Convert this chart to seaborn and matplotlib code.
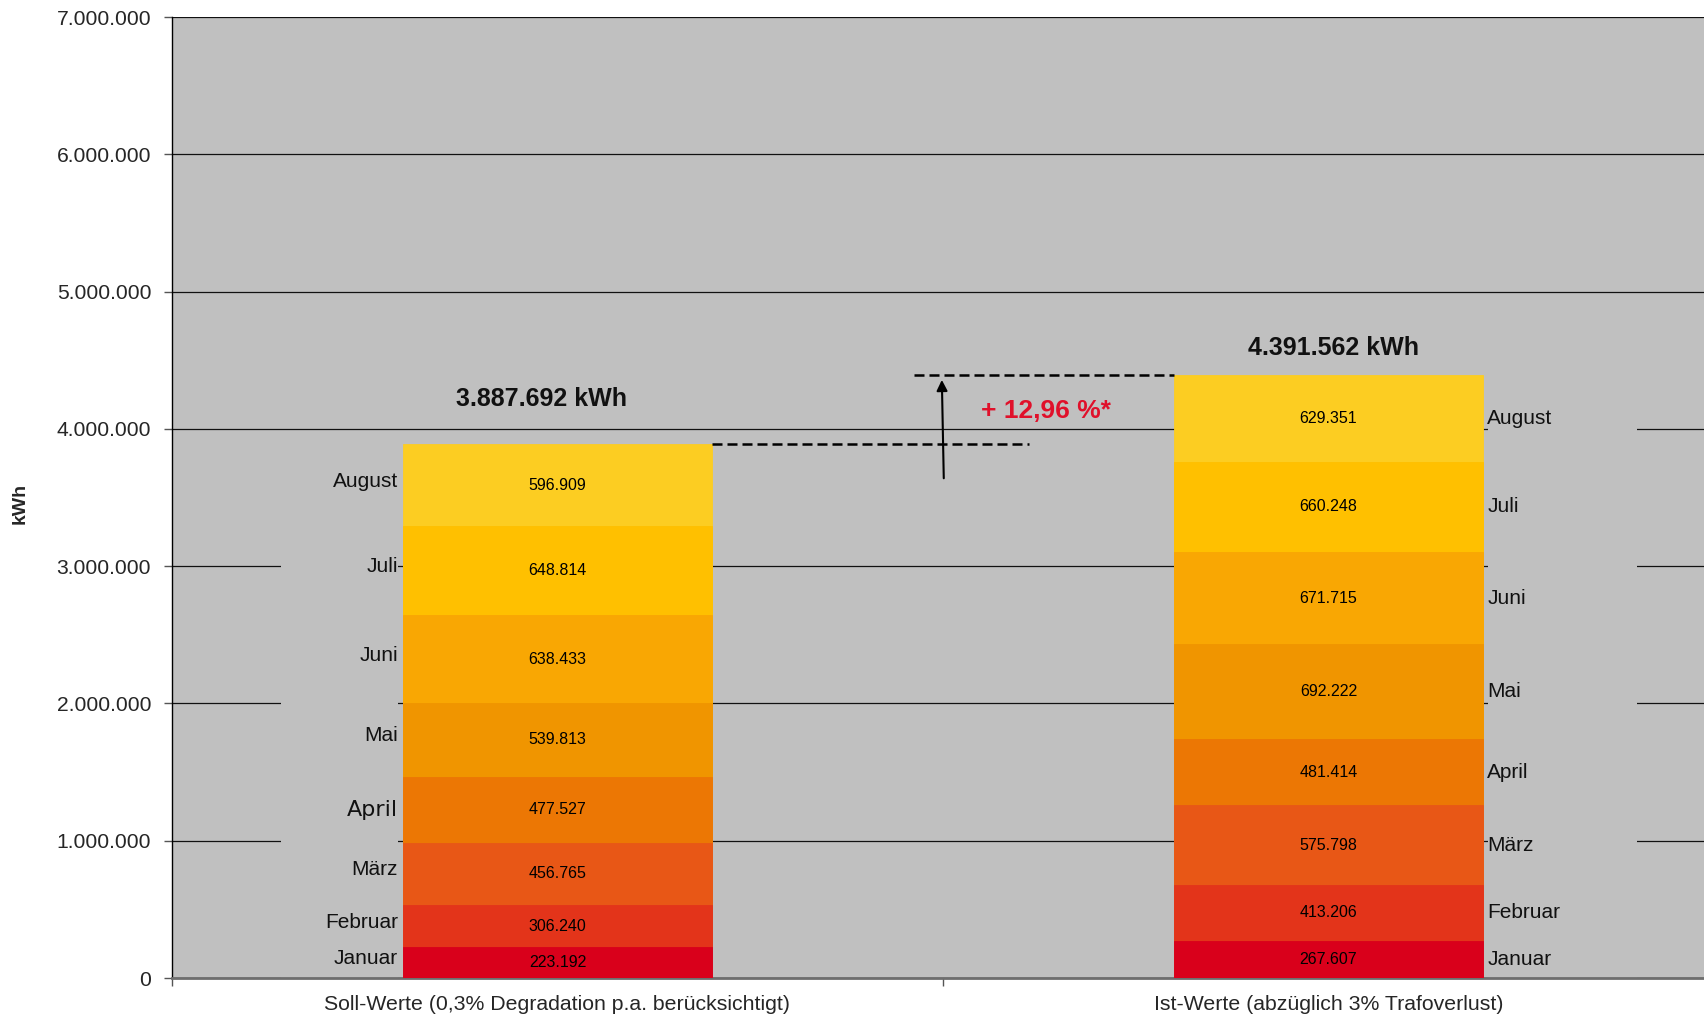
import seaborn as sns
import matplotlib.pyplot as plt
from matplotlib.patches import Rectangle
import numpy as np

# data
kategorien = ["Soll-Werte (0,3% Degradation p.a. berücksichtigt)",
              "Ist-Werte (abzüglich 3% Trafoverlust)"]
monate = ["Januar", "Februar", "März", "April", "Mai", "Juni", "Juli", "August"]
soll = [223192, 306240, 456765, 477527, 539813, 638433, 648814, 596909]
ist = [267607, 413206, 575798, 481414, 692222, 671715, 660248, 629351]
summen = [3887692, 4391562]
plus_text = "+ 12,96 %*"
farben = ["#D9001B", "#E3341A", "#E85716", "#EC7704",
          "#F09500", "#F9A703", "#FFC000", "#FCCD22"]

sns.set_theme(style="white")
plt.rcParams['font.family'] = ['Liberation Sans', 'DejaVu Sans']


def de(v):
    return f"{v:,.0f}".replace(",", ".")


fig = plt.figure(figsize=(17.04, 10.18), dpi=100)
ax = fig.add_axes([172 / 1704, 40 / 1018, 1542 / 1704, 961 / 1018])
ax.set_facecolor("#C0C0C0")

werte = np.array([soll, ist])
kum = werte.cumsum(axis=1)

# stacked bars: draw cumulative totals from top month down
for i in range(len(monate) - 1, -1, -1):
    sns.barplot(x=kategorien, y=kum[:, i], order=kategorien, color=farben[i],
                saturation=1, width=0.4, errorbar=None, linewidth=0.6,
                edgecolor=farben[i], ax=ax, zorder=3)

ax.set_xlim(-0.5, 1.5)
ax.set_ylim(0, 7000000)
ax.set_yticks(np.arange(0, 7000001, 1000000))
ax.set_yticklabels([de(v) for v in np.arange(0, 7000001, 1000000)], fontsize=15.2)
ax.yaxis.grid(True, color="#111111", linewidth=0.9)
ax.set_axisbelow(True)

# label columns hide the gridlines
ax.add_patch(Rectangle((-0.359, 0), 0.152, 3400000, facecolor="#C0C0C0",
                       edgecolor="none", zorder=1))
ax.add_patch(Rectangle((1.2065, 0), 0.1935, 4300000, facecolor="#C0C0C0",
                       edgecolor="none", zorder=1))

ax.set_xticks([0, 1])
ax.set_xticklabels(kategorien, fontsize=15.3)
ax.set_xticks([-0.5, 0.5, 1.5], minor=True)
ax.tick_params(axis="x", which="major", length=0, pad=12)
ax.tick_params(axis="x", which="minor", length=6, width=1, color="#555555",
               direction="out", bottom=True)
ax.tick_params(axis="y", length=6, width=1, color="#555555", direction="out",
               left=True, pad=9)
ax.set_xlabel("")
ax.set_ylabel("")

for s in ["top", "right"]:
    ax.spines[s].set_visible(False)
ax.spines["left"].set_color("black")
ax.spines["left"].set_linewidth(1)
ax.spines["bottom"].set_color("#6E6E6E")
ax.spines["bottom"].set_linewidth(2)

# values inside segments and month names beside bars
for j in range(2):
    unten = 0
    for i, m in enumerate(monate):
        v = werte[j, i]
        mitte = unten + v / 2
        ax.text(j, mitte, de(v), ha="center", va="center", fontsize=11.5,
                color="black", zorder=5)
        if j == 0:
            if m == "April":
                ax.text(-0.207, mitte, m, ha="right", va="center", fontsize=16,
                        family="DejaVu Sans", color="#111111", zorder=5)
            else:
                ax.text(-0.207, mitte + 30000, m, ha="right", va="center",
                        fontsize=15, color="#111111", zorder=5)
        else:
            ax.text(1.206, mitte, m, ha="left", va="center", fontsize=15,
                    color="#111111", zorder=5)
        unten += v

ax.text(-0.021, summen[0] + 330000, de(summen[0]) + " kWh", ha="center",
        va="center", fontsize=18, fontweight="bold", color="#111111")
ax.text(1.007, summen[1] + 198000, de(summen[1]) + " kWh", ha="center",
        va="center", fontsize=18, fontweight="bold", color="#111111")

# comparison lines and arrow
ax.plot([0.2, 0.611], [summen[0], summen[0]], color="black", lw=1.8,
        linestyle=(0, (4, 2)), zorder=4)
ax.plot([0.463, 0.8], [summen[1], summen[1]], color="black", lw=1.8,
        linestyle=(0, (4, 2)), zorder=4)
ax.annotate("", xy=(0.4985, summen[1] - 35000), xytext=(0.501, 3640000),
            arrowprops=dict(arrowstyle="-|>", lw=1.5, color="black",
                            mutation_scale=16, shrinkA=0, shrinkB=0), zorder=4)
ax.text(0.634, 4130000, plus_text, ha="center", va="center", fontsize=19,
        fontweight="bold", color="#E0102A")

fig.text(20 / 1704, 1 - 503 / 1018, "kWh", rotation=90, ha="center",
         va="center", fontsize=14, fontweight="bold")

fig.savefig("out.png", dpi=100, facecolor="white")
